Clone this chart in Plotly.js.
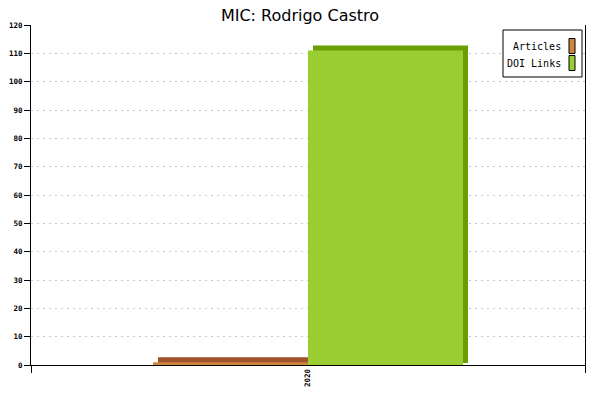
<!DOCTYPE html>
<html>
<head>
<meta charset="utf-8">
<script src="https://cdn.plot.ly/plotly-3.0.1.min.js"></script>
<style>html,body{margin:0;padding:0;background:#fff;}#chart{width:600px;height:400px;}</style>
</head>
<body>
<div id="chart"></div>
<script>
// ---- data ----
var categories = ["2020"];
var seriesNames = ["Articles", "DOI Links"];
var articles = [1];
var doiLinks = [111];
var yTicks = [0, 10, 20, 30, 40, 50, 60, 70, 80, 90, 100, 110, 120];

// ---- style ----
var frontColors = ["#cd853f", "#9acd32"];
var sideColors = ["#a0522d", "#6b9f00"];
var L = 31, R = 585, T = 25, B = 365;
var W = 600, H = 400;
var yMax = 120;
var barW = 155 / (R - L);           // bar width in category units
var dx = 5 / (R - L);               // 3D depth (x) in category units
var dy = 5 * yMax / (B - T);        // 3D depth (y) in data units
var shadowBase = dy * 0.4;
var values = [articles, doiLinks];
var offsets = [-barW, 0];

var traces = [];
// shadow (3D top/side) traces: span from shadowBase to value + dy
values.forEach(function (v, i) {
  traces.push({
    type: "bar", x: categories, y: v.map(function (d) { return d + dy - shadowBase; }),
    base: v.map(function () { return shadowBase; }),
    offset: offsets[i] + dx, width: barW,
    marker: { color: sideColors[i], line: { width: 0 } },
    showlegend: false, hoverinfo: "skip"
  });
});
// front faces
values.forEach(function (v, i) {
  traces.push({
    type: "bar", x: categories, y: v, name: seriesNames[i],
    offset: offsets[i], width: barW,
    marker: { color: frontColors[i], line: { width: 0 } },
    showlegend: false
  });
});

function px(x) { return (x - L) / (R - L); }
function py(y) { return (B - y) / (B - T); }

var monoFont = { family: "DejaVu Sans Mono", size: 10, color: "#000" };
var shapes = [
  { type: "rect", xref: "paper", yref: "paper", x0: px(503), x1: px(582), y0: py(30), y1: py(77),
    line: { color: "#000", width: 1 }, fillcolor: "#fff", layer: "above" }
];
var annotations = [];
seriesNames.forEach(function (n, i) {
  var cy = 46 + i * 17;
  shapes.push({ type: "rect", xref: "paper", yref: "paper", x0: px(569), x1: px(575),
    y0: py(cy - 7.5), y1: py(cy + 7.5), fillcolor: frontColors[i],
    line: { color: "#000", width: 1 }, layer: "above" });
  annotations.push({ xref: "paper", yref: "paper", x: px(563), y: py(cy), xanchor: "right", yanchor: "middle",
    text: n, showarrow: false, font: monoFont });
});

var layout = {
  width: W, height: H,
  margin: { l: L, r: W - R, t: T, b: H - B, pad: 0 },
  paper_bgcolor: "#fff", plot_bgcolor: "#fff",
  title: { text: "MIC: Rodrigo Castro", font: { family: "DejaVu Sans", size: 16, color: "#000" },
    x: 0.5, xanchor: "center", y: 0.975, yanchor: "top" },
  barmode: "overlay",
  showlegend: false,
  xaxis: {
    type: "category", range: [-0.5, 0.5], tickson: "boundaries",
    showline: true, linecolor: "#000", linewidth: 1, layer: "below traces",
    ticks: "outside", ticklen: 7, tickcolor: "#000",
    tickangle: -90, tickfont: { family: "DejaVu Sans Mono", size: 7.5, weight: "bold", color: "#000" },
    showgrid: false, zeroline: false, fixedrange: true
  },
  yaxis: {
    range: [0, yMax], tickmode: "array", tickvals: yTicks, ticktext: yTicks.map(String),
    showline: true, mirror: true, linecolor: "#000", linewidth: 1, layer: "below traces",
    ticks: "outside", ticklen: 6, tickcolor: "#000",
    tickfont: { family: "DejaVu Sans Mono", size: 7.5, weight: "bold", color: "#000" },
    showgrid: true, gridcolor: "#c4c4c4", gridwidth: 1, griddash: "2px,4px",
    zeroline: false, fixedrange: true
  },
  shapes: shapes,
  annotations: annotations
};

Plotly.newPlot("chart", traces, layout, { staticPlot: true, displayModeBar: false });
</script>
</body>
</html>
